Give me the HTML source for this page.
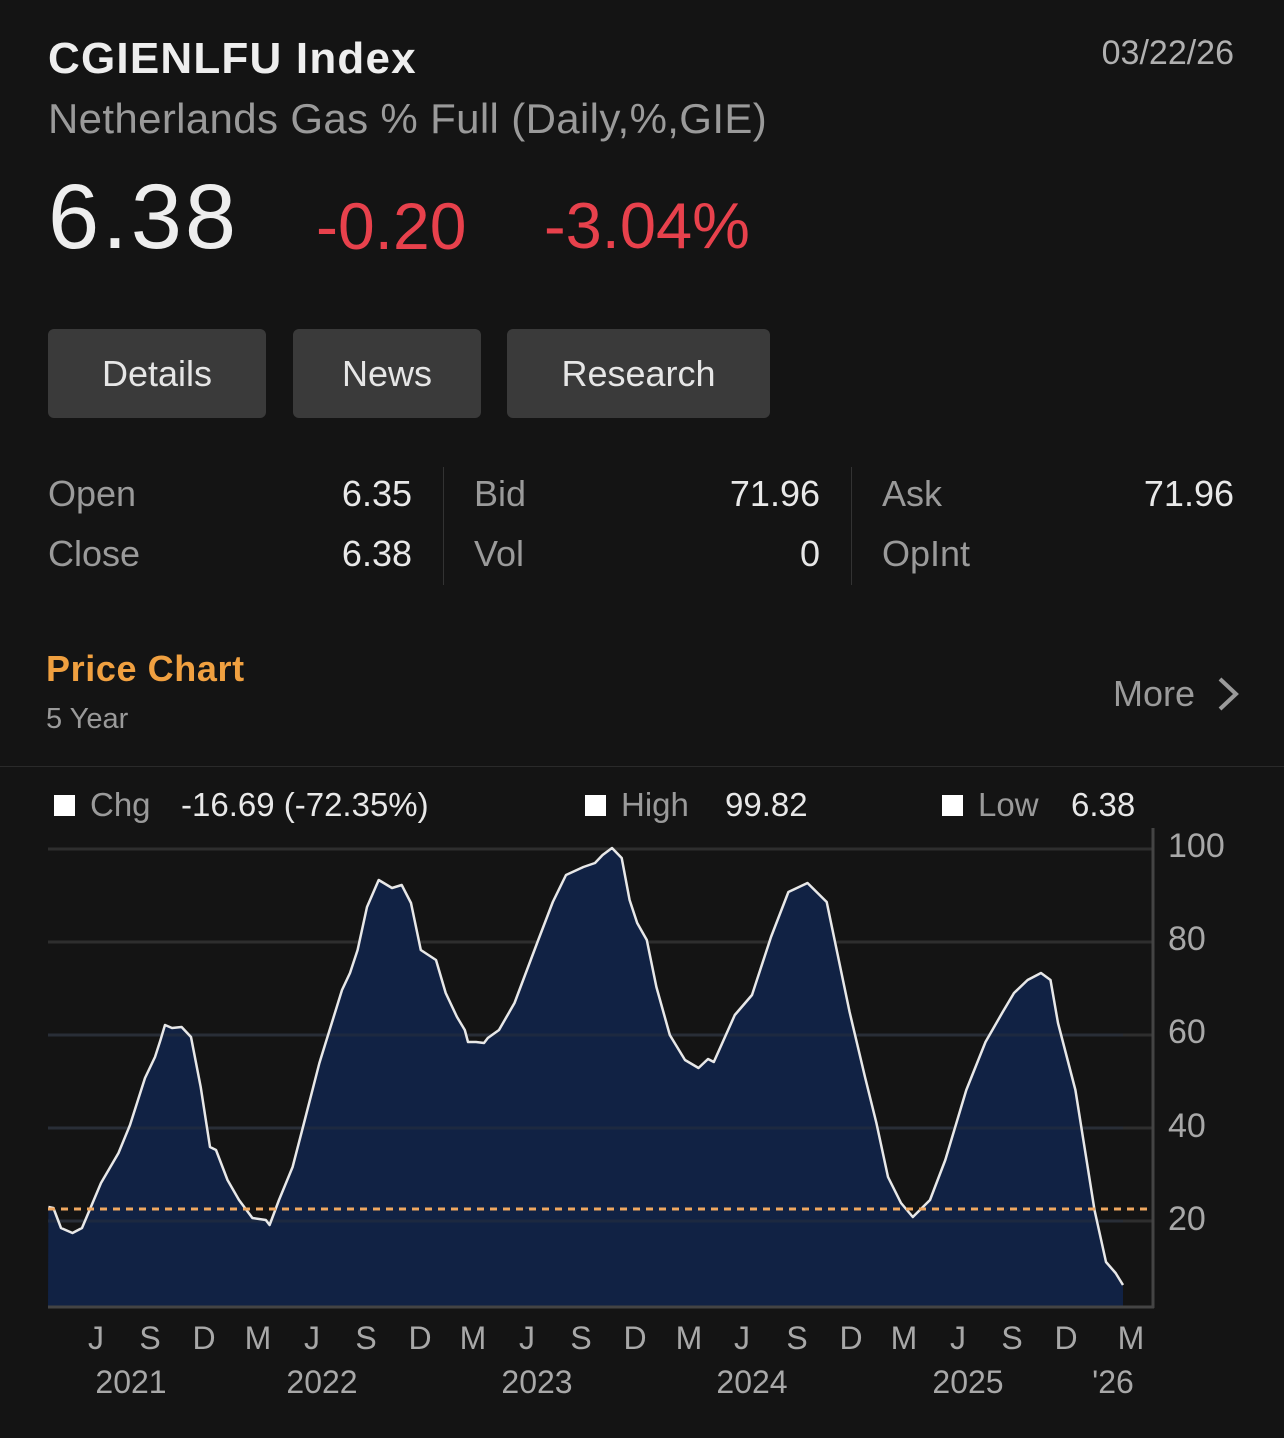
<!DOCTYPE html><html><head><meta charset="utf-8"><style>
body{margin:0;width:1284px;height:1438px;background:#141414;font-family:"Liberation Sans",sans-serif;position:relative;overflow:hidden;color:#e8e8e8}
.a{position:absolute;white-space:nowrap}
.btn{position:absolute;top:329px;height:89px;background:#3a3a3a;border-radius:6px;color:#e6e6e6;font-size:36px;line-height:89px;text-align:center}
.g{color:#9a9a9a}
</style></head><body>
<div class="a" style="left:48px;top:34px;font-size:44px;font-weight:bold;color:#eee;letter-spacing:1.2px">CGIENLFU Index</div>
<div class="a g" style="right:50px;top:34px;font-size:34px;color:#b0b0b0">03/22/26</div>
<div class="a g" style="left:48px;top:95px;font-size:42px;letter-spacing:0.35px">Netherlands Gas % Full (Daily,%,GIE)</div>
<div class="a" style="left:48px;top:165px;font-size:92px;color:#eee;letter-spacing:3px">6.38</div>
<div class="a" style="left:316px;top:188px;font-size:66px;color:#e8414c">-0.20</div>
<div class="a" style="left:544px;top:188px;font-size:65px;color:#e8414c">-3.04%</div>
<div class="btn" style="left:48px;width:218px">Details</div>
<div class="btn" style="left:293px;width:188px">News</div>
<div class="btn" style="left:507px;width:263px">Research</div>
<div class="a g" style="left:48px;top:473px;font-size:36px">Open</div>
<div class="a" style="right:872px;top:473px;font-size:36px">6.35</div>
<div class="a g" style="left:48px;top:533px;font-size:36px">Close</div>
<div class="a" style="right:872px;top:533px;font-size:36px">6.38</div>
<div class="a" style="left:443px;top:467px;width:1px;height:118px;background:#333"></div>
<div class="a g" style="left:474px;top:473px;font-size:36px">Bid</div>
<div class="a" style="right:464px;top:473px;font-size:36px">71.96</div>
<div class="a g" style="left:474px;top:533px;font-size:36px">Vol</div>
<div class="a" style="right:464px;top:533px;font-size:36px">0</div>
<div class="a" style="left:851px;top:467px;width:1px;height:118px;background:#333"></div>
<div class="a g" style="left:882px;top:473px;font-size:36px">Ask</div>
<div class="a" style="right:50px;top:473px;font-size:36px">71.96</div>
<div class="a g" style="left:882px;top:533px;font-size:36px">OpInt</div>
<div class="a" style="left:46px;top:648px;font-size:36px;font-weight:bold;color:#f0a040;letter-spacing:0.6px">Price Chart</div>
<div class="a g" style="left:46px;top:703px;font-size:29px">5 Year</div>
<div class="a g" style="left:1113px;top:673px;font-size:36px">More</div>
<svg class="a" style="left:1212px;top:676px" width="30" height="36"><path d="M8 3 L24 18 L8 33" stroke="#9a9a9a" stroke-width="4" fill="none"/></svg>
<div class="a" style="left:0;top:766px;width:1284px;height:1px;background:#2a2a2a"></div>
<div class="a" style="left:54px;top:795px;width:21px;height:21px;background:#fff"></div>
<div class="a g" style="left:90px;top:786px;font-size:33px">Chg</div>
<div class="a" style="left:181px;top:786px;font-size:33px">-16.69 (-72.35%)</div>
<div class="a" style="left:585px;top:795px;width:21px;height:21px;background:#fff"></div>
<div class="a g" style="left:621px;top:786px;font-size:33px">High</div>
<div class="a" style="left:725px;top:786px;font-size:33px">99.82</div>
<div class="a" style="left:942px;top:795px;width:21px;height:21px;background:#fff"></div>
<div class="a g" style="left:978px;top:786px;font-size:33px">Low</div>
<div class="a" style="left:1071px;top:786px;font-size:33px">6.38</div>
<svg class="a" style="left:0;top:0" width="1284" height="1438">
<g stroke="#2e2e2e" stroke-width="3"><line x1="48" y1="849" x2="1153" y2="849"/><line x1="48" y1="942" x2="1153" y2="942"/><line x1="48" y1="1035" x2="1153" y2="1035"/><line x1="48" y1="1128" x2="1153" y2="1128"/><line x1="48" y1="1221" x2="1153" y2="1221"/></g>
<path fill="#112244" d="M48,1307 L48.4,1207 L53.4,1208 L61,1228 L72.5,1233 L82,1228 L101,1183 L118.5,1153 L130,1125 L145,1078 L155,1057 L160.5,1040 L165,1025 L172,1028 L181.6,1027 L191,1037 L200.7,1087 L210,1147 L216,1150 L227.5,1180 L239,1200 L252.4,1218 L265.8,1220 L269.6,1225 L279,1200 L292.6,1167 L304,1123 L319.4,1063 L342,990 L350,973 L357.6,950 L367,907 L378.7,880 L392,888 L401.7,885 L411,903 L420.8,950 L436,960 L445.7,993 L457,1017 L464.8,1030 L468,1042 L476,1042 L484,1043 L487.8,1038 L499,1030 L514.5,1003 L537.5,942 L552.8,902 L566,875 L583.4,867 L595,863 L602.6,855 L612,848 L621.7,858 L629.6,900 L637.2,923 L646.8,940 L656.4,987 L669.8,1035 L685,1060 L698.5,1068 L708,1059 L713.8,1062 L734.8,1015 L752,995 L771,937 L788.4,892 L807.5,883 L826.7,902 L849.6,1012 L865,1077 L876.4,1123 L888,1177 L901,1203 L912.8,1217 L930,1200 L945.3,1160 L966.3,1090 L985.5,1042 L1002.7,1012 L1014,993 L1027.6,980 L1041,973 L1050.5,980 L1058,1023 L1075.4,1090 L1094.5,1210 L1106,1262 L1115.6,1273 L1123,1285 L1123,1307 Z"/>
<g stroke="#262e3e" stroke-width="3" opacity="0.6"><line x1="48" y1="1035" x2="1123" y2="1035"/><line x1="48" y1="1128" x2="1123" y2="1128"/><line x1="48" y1="1221" x2="1123" y2="1221"/></g>
<path fill="none" stroke="#e8e8e8" stroke-width="2.5" stroke-linejoin="round" d="M48.4,1207 L53.4,1208 L61,1228 L72.5,1233 L82,1228 L101,1183 L118.5,1153 L130,1125 L145,1078 L155,1057 L160.5,1040 L165,1025 L172,1028 L181.6,1027 L191,1037 L200.7,1087 L210,1147 L216,1150 L227.5,1180 L239,1200 L252.4,1218 L265.8,1220 L269.6,1225 L279,1200 L292.6,1167 L304,1123 L319.4,1063 L342,990 L350,973 L357.6,950 L367,907 L378.7,880 L392,888 L401.7,885 L411,903 L420.8,950 L436,960 L445.7,993 L457,1017 L464.8,1030 L468,1042 L476,1042 L484,1043 L487.8,1038 L499,1030 L514.5,1003 L537.5,942 L552.8,902 L566,875 L583.4,867 L595,863 L602.6,855 L612,848 L621.7,858 L629.6,900 L637.2,923 L646.8,940 L656.4,987 L669.8,1035 L685,1060 L698.5,1068 L708,1059 L713.8,1062 L734.8,1015 L752,995 L771,937 L788.4,892 L807.5,883 L826.7,902 L849.6,1012 L865,1077 L876.4,1123 L888,1177 L901,1203 L912.8,1217 L930,1200 L945.3,1160 L966.3,1090 L985.5,1042 L1002.7,1012 L1014,993 L1027.6,980 L1041,973 L1050.5,980 L1058,1023 L1075.4,1090 L1094.5,1210 L1106,1262 L1115.6,1273 L1123,1285"/>
<line x1="48" y1="1209" x2="1150" y2="1209" stroke="#f0a860" stroke-width="3" stroke-dasharray="7,6"/>
<line x1="48" y1="1307" x2="1154" y2="1307" stroke="#444" stroke-width="3"/>
<line x1="1153" y1="828" x2="1153" y2="1308" stroke="#444" stroke-width="3"/>
<g fill="#a8a8a8" font-family="Liberation Sans, sans-serif" font-size="34"><text x="1168" y="857">100</text><text x="1168" y="950">80</text><text x="1168" y="1043">60</text><text x="1168" y="1137">40</text><text x="1168" y="1230">20</text></g>
<g fill="#a8a8a8" font-family="Liberation Sans, sans-serif" font-size="32" text-anchor="middle">
<text x="96" y="1349">J</text><text x="150" y="1349">S</text><text x="204" y="1349">D</text><text x="258" y="1349">M</text><text x="312" y="1349">J</text><text x="366" y="1349">S</text><text x="420" y="1349">D</text><text x="473" y="1349">M</text><text x="527" y="1349">J</text><text x="581" y="1349">S</text><text x="635" y="1349">D</text><text x="689" y="1349">M</text><text x="742" y="1349">J</text><text x="797" y="1349">S</text><text x="851" y="1349">D</text><text x="904" y="1349">M</text><text x="958" y="1349">J</text><text x="1012" y="1349">S</text><text x="1066" y="1349">D</text><text x="1131" y="1349">M</text>
<text x="131" y="1393">2021</text><text x="322" y="1393">2022</text><text x="537" y="1393">2023</text><text x="752" y="1393">2024</text><text x="968" y="1393">2025</text><text x="1113" y="1393">'26</text></g>
</svg>
</body></html>
